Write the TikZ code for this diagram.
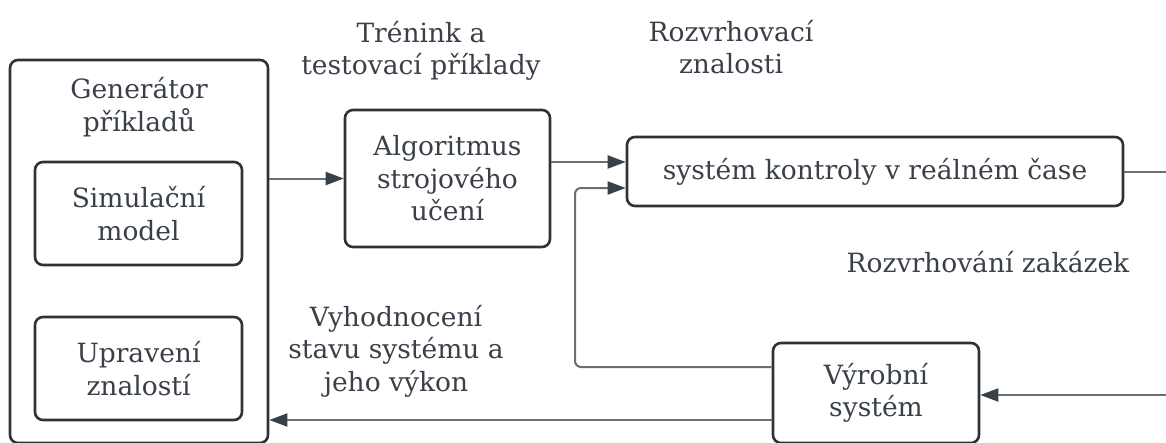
\documentclass[tikz,border=0pt]{standalone}
\usepackage{fontspec}
\setmainfont{DejaVu Serif}
\usetikzlibrary{arrows.meta}
\definecolor{ink}{HTML}{3A4049}
\definecolor{edge}{HTML}{2E3338}
\definecolor{wire}{HTML}{6A6F75}
\definecolor{tip}{HTML}{3A4047}
\begin{document}
\begin{tikzpicture}[x=1pt,y=-1pt,
  txt/.style={font=\fontsize{26.5}{32.5}\selectfont, text=ink, align=center, inner sep=0pt},
  box/.style={txt, draw=edge, line width=2.6pt, rounded corners=8pt},
  link/.style={draw=wire, line width=2pt, -{Triangle[length=18pt,width=13pt,color=tip]}},
  plain/.style={draw=wire, line width=2pt}]
\useasboundingbox (0,0) rectangle (1166,442);

% example generator with its two parts
\node[box, minimum width=258pt, minimum height=383pt] (gen) at (139,251.5) {};
\node[txt] (gentitle) at (139,107) {Generátor\\příkladů};
\node[box, minimum width=207pt, minimum height=103pt] (sim) at (138.5,213.5) {Simulační\\model};
\node[box, minimum width=207pt, minimum height=103pt] (upr) at (138.5,368.5) {Upravení\\znalostí};

% learning, control and production
\node[box, minimum width=205pt, minimum height=137pt] (alg) at (447.5,178.5) {Algoritmus\\strojového\\učení};
\node[box, minimum width=496pt, minimum height=69pt] (ctl) at (875,171.5) {systém kontroly v reálném čase};
\node[box, minimum width=206pt, minimum height=100pt] (vyr) at (876,393) {Výrobní\\systém};

% flow labels
\node[txt] (lbltrain) at (421,51) {Trénink a\\testovací příklady};
\node[txt] (lblknow) at (731,47) {Rozvrhovací\\znalosti};
\node[txt] (lblsched) at (988,262) {Rozvrhování zakázek};
\node[txt] (lbleval) at (396,351) {Vyhodnocení\\stavu systému a\\jeho výkon};

% connectors
\coordinate (outR) at (1166,171.5);
\coordinate (inR) at (1166,395);
\draw[link] (gen.east |- alg.west) -- (alg.west);
\draw[link] (alg.east |- 0,162) -- (ctl.west |- 0,162);
\draw[link, rounded corners=6pt] (vyr.west |- 0,367) -| (575,188) -- (ctl.west |- 0,188);
\draw[plain] (ctl.east) -- (outR);
\draw[link] (inR) -- (vyr.east |- inR);
\draw[link] (vyr.west |- 0,420) -- (gen.east |- 0,420);
\end{tikzpicture}
\end{document}
